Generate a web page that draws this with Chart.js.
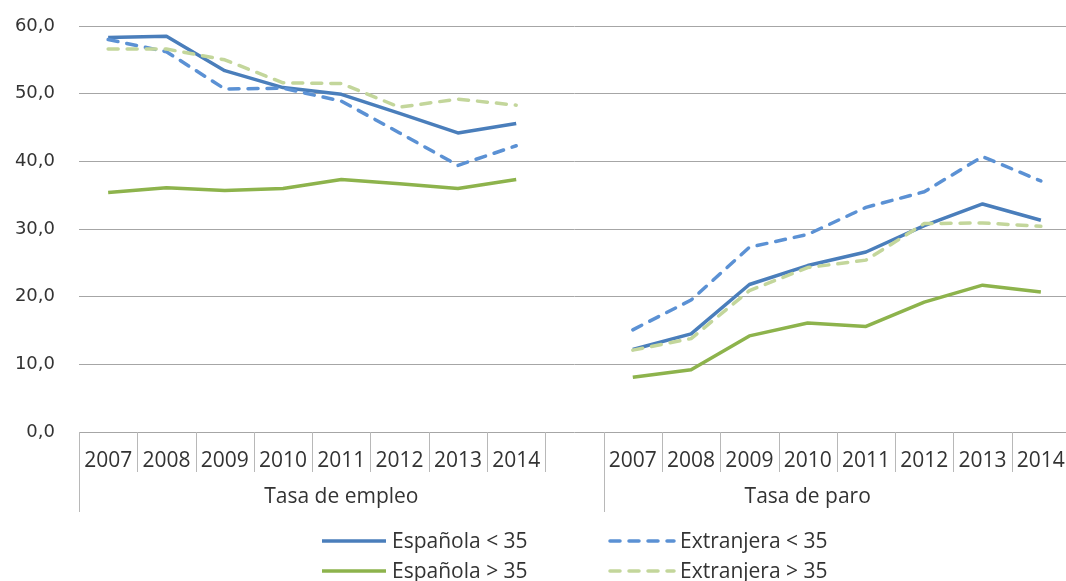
<!DOCTYPE html>
<html>
<head>
<meta charset="utf-8">
<style>
  html, body { margin: 0; padding: 0; overflow: hidden; background: #fff; }
</style>
</head>
<body>
<div style="width:1072px;height:581px"><canvas id="chart" width="1072" height="581"></canvas></div>
<script src="https://cdn.jsdelivr.net/npm/chart.js"></script>
<script>
const years = ['2007', '2008', '2009', '2010', '2011', '2012', '2013', '2014'];
const groups = ['Tasa de empleo', 'Tasa de paro'];
const yTicks = [0, 10, 20, 30, 40, 50, 60];

const empleoEspMenor35 = [58.3, 58.5, 53.4, 50.9, 49.9, 47.1, 44.2, 45.6];
const empleoExtMenor35 = [58.0, 56.2, 50.7, 50.8, 48.9, 44.2, 39.4, 42.3];
const empleoEspMayor35 = [35.4, 36.1, 35.7, 36.0, 37.3, 36.7, 36.0, 37.3];
const empleoExtMayor35 = [56.6, 56.6, 55.0, 51.6, 51.5, 48.0, 49.2, 48.3];

const paroEspMenor35 = [12.2, 14.5, 21.8, 24.6, 26.6, 30.5, 33.7, 31.3];
const paroExtMenor35 = [15.1, 19.5, 27.3, 29.2, 33.2, 35.5, 40.7, 37.1];
const paroEspMayor35 = [8.1, 9.2, 14.2, 16.1, 15.6, 19.2, 21.7, 20.7];
const paroExtMayor35 = [12.1, 13.8, 20.9, 24.3, 25.4, 30.8, 30.9, 30.4];

// one empty category between the two groups
const labels = [...years, '', ...years];
const join = (a, b) => [...a, null, ...b];

const textColor = '#333';
const labelFont = '21px "Open Sans"';

function line(label, data, color, dashed, order) {
    return {
        label: label,
        data: data,
        borderColor: color,
        backgroundColor: color,
        borderWidth: 3.5,
        borderDash: dashed ? [10, 9] : [],
        borderCapStyle: dashed ? 'round' : 'butt',
        borderJoinStyle: 'round',
        pointRadius: 0,
        tension: 0,
        spanGaps: false,
        order: order
    };
}

// year labels, group labels, separators and the legend
const axisAndLegend = {
    id: 'axisAndLegend',
    afterDraw(chart) {
        const ctx = chart.ctx;
        const x = chart.scales.x;
        const area = chart.chartArea;
        const n = labels.length;
        const w = (area.right - area.left) / n;
        const y0 = area.bottom;

        ctx.save();
        ctx.strokeStyle = '#b8b8b8';
        ctx.lineWidth = 1;
        for (let i = 0; i <= n; i++) {
            const bx = Math.round(area.left + i * w) + 0.5;
            const isGroup = (i === 0 || i === 9 || i === n);
            ctx.beginPath();
            ctx.moveTo(bx, y0);
            ctx.lineTo(bx, isGroup ? y0 + 80 : y0 + 40);
            ctx.stroke();
        }

        ctx.fillStyle = textColor;
        ctx.font = labelFont;
        ctx.textAlign = 'center';
        ctx.textBaseline = 'alphabetic';
        labels.forEach((lab, i) => {
            if (lab) ctx.fillText(lab, x.getPixelForValue(i), y0 + 35);
        });
        ctx.fillText(groups[0], area.left + 4.5 * w, y0 + 71);
        ctx.fillText(groups[1], area.left + 12.5 * w, y0 + 71);

        // legend, 2 x 2
        const colX = [320, 608];
        const rowY = [541, 571];
        ctx.textAlign = 'left';
        chart.data.datasets.forEach((ds, i) => {
            const cx = colX[i % 2];
            const cy = rowY[Math.floor(i / 2)];
            ctx.strokeStyle = ds.borderColor;
            ctx.lineWidth = ds.borderWidth;
            ctx.lineCap = ds.borderCapStyle;
            ctx.setLineDash(ds.borderDash);
            ctx.beginPath();
            ctx.moveTo(cx + 2, cy);
            ctx.lineTo(cx + 66, cy);
            ctx.stroke();
            ctx.setLineDash([]);
            ctx.fillStyle = textColor;
            ctx.fillText(ds.label, cx + 72, cy + 7);
        });
        ctx.restore();
    }
};

new Chart(document.getElementById('chart'), {
    type: 'line',
    data: {
        labels: labels,
        datasets: [
            line('Española < 35', join(empleoEspMenor35, paroEspMenor35), '#4a7ebb', false, 3),
            line('Extranjera < 35', join(empleoExtMenor35, paroExtMenor35), '#5b91d4', true, 2),
            line('Española > 35', join(empleoEspMayor35, paroEspMayor35), '#8db34c', false, 1),
            line('Extranjera > 35', join(empleoExtMayor35, paroExtMayor35), '#c3d69b', true, 0)
        ]
    },
    options: {
        responsive: false,
        animation: false,
        layout: { padding: { top: 26, right: 2, left: 0, bottom: 0 } },
        plugins: { legend: { display: false }, tooltip: { enabled: false } },
        scales: {
            x: {
                offset: true,
                ticks: { display: false },
                grid: { display: false },
                border: { display: false },
                afterFit(scale) { scale.height = 149; }
            },
            y: {
                min: 0,
                max: 60,
                afterBuildTicks(scale) { scale.ticks = yTicks.map(v => ({ value: v })); },
                ticks: {
                    padding: 24,
                    color: textColor,
                    font: { family: '"DejaVu Sans"', size: 18 },
                    callback: v => v.toFixed(1).replace('.', ',')
                },
                grid: { color: '#a6a6a6', lineWidth: 1, drawTicks: false },
                border: { display: false },
                afterFit(scale) {
                    scale.width = 79;
                    scale.paddingTop = 0;
                    scale.paddingBottom = 0;
                }
            }
        }
    },
    plugins: [axisAndLegend]
});
</script>
</body>
</html>
